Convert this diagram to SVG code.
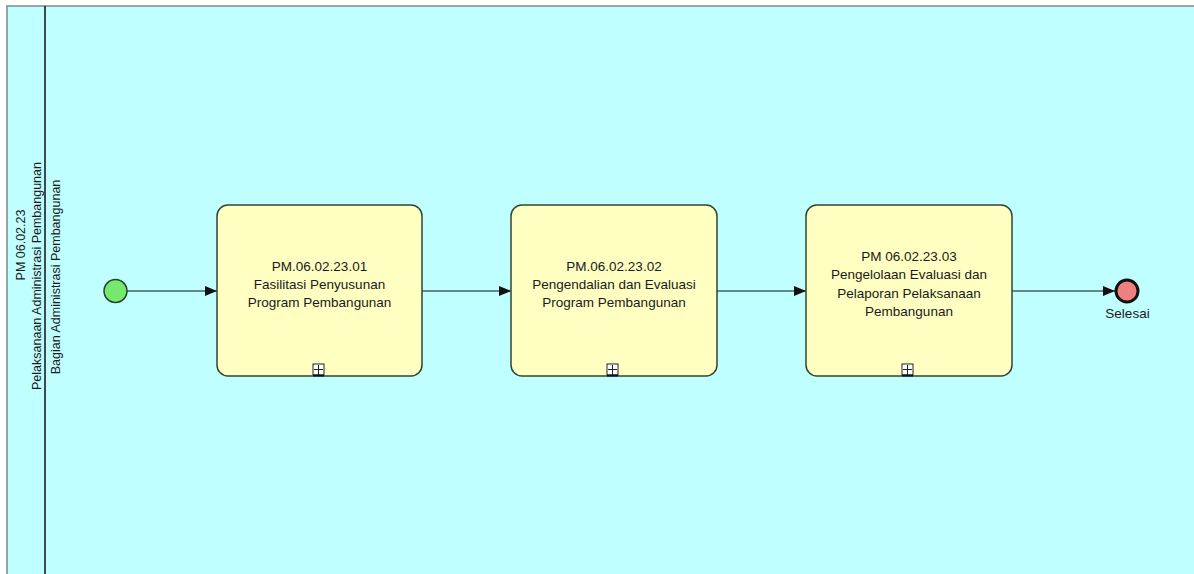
<svg xmlns="http://www.w3.org/2000/svg" width="1194" height="574" viewBox="0 0 1194 574">
<defs>
<style>
text{font-family:"Liberation Sans",Arial,sans-serif;fill:#1a1a1a}
.t{font-size:13.5px;text-anchor:middle}
.lab{font-size:12.5px;text-anchor:middle}
.task{fill:#FFFFC2;stroke:#334433;stroke-width:1.5}
.flow{stroke:#111;stroke-width:1;fill:none;marker-end:url(#ah)}
.exp{fill:#fff;stroke:#222;stroke-width:1}
</style>
<marker id="ah" viewBox="0 0 12 10" refX="12" refY="5" markerWidth="12" markerHeight="10" markerUnits="userSpaceOnUse" orient="auto">
<path d="M0,0 L12,5 L0,10 z" fill="#111"/>
</marker>
</defs>
<rect x="0" y="0" width="1194" height="574" fill="#ffffff"/>
<g id="pool">
<rect x="7" y="6" width="1200" height="580" fill="#C0FFFF" stroke="#7A8A8A" stroke-width="1.5"/>
<line x1="45" y1="6" x2="45" y2="574" stroke="#111" stroke-width="1.5"/>
<text class="lab" transform="translate(25,245) rotate(-90)">PM 06.02.23</text>
<text class="lab" transform="translate(41,276) rotate(-90)">Pelaksanaan Administrasi Pembangunan</text>
<text class="lab" transform="translate(60,277) rotate(-90)">Bagian Administrasi Pembangunan</text>
</g>
<g id="connectors">
<line class="flow" x1="127" y1="291" x2="217" y2="291"/>
<line class="flow" x1="422" y1="291" x2="511" y2="291"/>
<line class="flow" x1="717" y1="291" x2="806" y2="291"/>
<line class="flow" x1="1012" y1="291" x2="1115" y2="291"/>
</g>
<g id="start">
<circle cx="115.5" cy="291" r="11.5" fill="#77E86E" stroke="#224422" stroke-width="1.5"/>
</g>
<g id="task1">
<rect class="task" x="217" y="205" width="205" height="171" rx="11"/>
<text class="t" x="319.5" y="271">PM.06.02.23.01</text>
<text class="t" x="319.5" y="289">Fasilitasi Penyusunan</text>
<text class="t" x="319.5" y="307">Program Pembangunan</text>
<rect class="exp" x="313" y="364" width="11" height="11"/>
<path d="M318.5,365 V375 M314,369.5 H323" stroke="#222" stroke-width="1"/>
<line x1="313" y1="375.5" x2="324" y2="375.5" stroke="#111" stroke-width="2"/>
</g>
<g id="task2">
<rect class="task" x="511" y="205" width="206" height="171" rx="11"/>
<text class="t" x="614" y="271">PM.06.02.23.02</text>
<text class="t" x="614" y="289">Pengendalian dan Evaluasi</text>
<text class="t" x="614" y="307">Program Pembangunan</text>
<rect class="exp" x="607" y="364" width="11" height="11"/>
<path d="M612.5,365 V375 M608,369.5 H617" stroke="#222" stroke-width="1"/>
<line x1="607" y1="375.5" x2="618" y2="375.5" stroke="#111" stroke-width="2"/>
</g>
<g id="task3">
<rect class="task" x="806" y="205" width="206" height="171" rx="11"/>
<text class="t" x="909" y="261">PM 06.02.23.03</text>
<text class="t" x="909" y="279">Pengelolaan Evaluasi dan</text>
<text class="t" x="909" y="298">Pelaporan Pelaksanaan</text>
<text class="t" x="909" y="316">Pembangunan</text>
<rect class="exp" x="902" y="364" width="11" height="11"/>
<path d="M907.5,365 V375 M903,369.5 H912" stroke="#222" stroke-width="1"/>
<line x1="902" y1="375.5" x2="913" y2="375.5" stroke="#111" stroke-width="2"/>
</g>
<g id="end">
<circle cx="1127" cy="291" r="11" fill="#F08080" stroke="#111" stroke-width="3"/>
<text class="t" x="1127.5" y="318">Selesai</text>
</g>
</svg>
